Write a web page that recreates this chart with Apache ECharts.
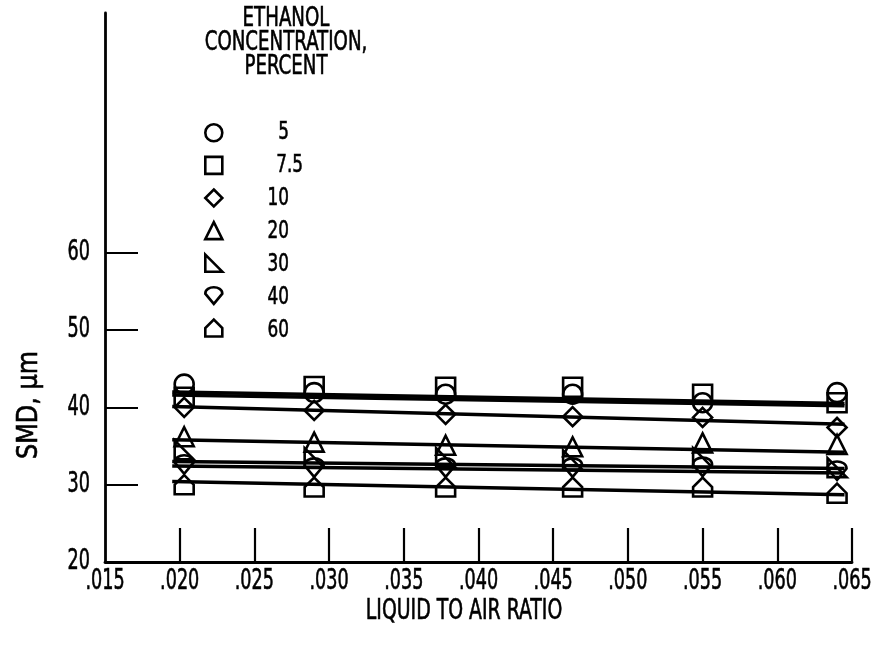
<!DOCTYPE html>
<html>
<head>
<meta charset="utf-8">
<script src="https://cdn.jsdelivr.net/npm/echarts@6/dist/echarts.min.js"></script>
<style>
  html, body { margin: 0; padding: 0; background: #ffffff; }
  #chart { width: 883px; height: 647px; }
</style>
</head>
<body>
<div id="chart"></div>
<script>
// Liquid-to-air ratios at which drop size was measured
const ratios = [0.0203, 0.0290, 0.0378, 0.0463, 0.0550, 0.0640];

// Ethanol concentration, percent (one series each)
const concentrations = ['5', '7.5', '10', '20', '30', '40', '60'];

// Sauter mean diameter, um, per concentration
const smd5   = [43.0, 41.9, 41.7, 41.7, 40.6, 41.9];
const smd7_5 = [41.3, 42.7, 42.6, 42.6, 41.7, 40.6];
const smd10  = [40.0, 39.6, 39.1, 38.8, 38.7, 37.4];
const smd20  = [36.2, 35.5, 35.1, 34.9, 35.4, 35.2];
const smd30  = [34.5, 33.5, 33.5, 33.2, 33.5, 32.2];
const smd40  = [32.6, 32.2, 32.2, 32.2, 32.3, 31.8];
const smd60  = [30.0, 29.7, 29.7, 29.7, 29.7, 28.9];

// Straight-line fits: ratio range and SMD at each end
const fitRange = [0.0195, 0.0645];
const fitStart = [42.0, 41.6, 40.1, 35.8, 33.0, 32.4, 30.4];
const fitEnd   = [40.5, 40.2, 37.8, 34.2, 32.1, 31.5, 28.7];

// Axis ticks and labels
const xTickValues = [0.015, 0.020, 0.025, 0.030, 0.035, 0.040, 0.045, 0.050, 0.055, 0.060, 0.065];
const yLabelValues = [20, 30, 40, 50, 60];
const yTickValues = [30, 40, 50, 60];

const smdSets = [smd5, smd7_5, smd10, smd20, smd30, smd40, smd60];

const FONT = '"DejaVu Sans Condensed", "DejaVu Sans", sans-serif';
const INK = '#000000';

// Open marker shapes, one per concentration
const markerShapes = [
  'circle',
  'rect',
  'diamond',
  'triangle',
  'path://M0,0 L0,10 L10,10 Z',
  'path://M0,4 C0,-1 10,-1 10,4 L5,10 Z',
  'path://M0,10 L0,5 L5,0 L10,5 L10,10 Z'
];

const openMarker = { color: 'rgba(255,255,255,0)', borderColor: INK, borderWidth: 2.6, opacity: 1 };

const series = [];
concentrations.forEach((name, i) => {
  series.push({
    name: name + ' fit',
    type: 'line',
    data: [[fitRange[0], fitStart[i]], [fitRange[1], fitEnd[i]]],
    symbol: 'none',
    silent: true,
    lineStyle: { color: INK, width: 3.5 },
    z: 2
  });
});
concentrations.forEach((name, i) => {
  series.push({
    name: name,
    type: 'scatter',
    data: ratios.map((r, k) => [r, smdSets[i][k]]),
    symbol: markerShapes[i],
    symbolSize: 19,
    symbolKeepAspect: true,
    itemStyle: openMarker,
    z: 3
  });
});

const chart = echarts.init(document.getElementById('chart'), null, { renderer: 'canvas' });

chart.setOption({
  backgroundColor: '#ffffff',
  animation: false,
  grid: { left: 105, right: 31, top: 13, bottom: 85, containLabel: false },
  xAxis: {
    type: 'value',
    min: 0.015,
    max: 0.065,
    interval: 0.005,
    axisLine: { show: true, lineStyle: { color: INK, width: 2.8 } },
    axisTick: { show: true, inside: true, length: 34, lineStyle: { color: INK, width: 2.2 },
                customValues: xTickValues.slice(1) },
    axisLabel: { show: false },
    splitLine: { show: false }
  },
  yAxis: {
    type: 'value',
    min: 20,
    max: 91,
    axisLine: { show: true, lineStyle: { color: INK, width: 2.8 } },
    axisTick: { show: true, inside: true, length: 33, lineStyle: { color: INK, width: 2.2 },
                customValues: yTickValues },
    axisLabel: { show: false },
    splitLine: { show: false }
  },
  legend: {
    data: concentrations,
    orient: 'vertical',
    left: 204,
    top: 123,
    padding: 0,
    itemWidth: 17,
    itemHeight: 17,
    itemGap: 13,
    selectedMode: false,
    formatter: () => '',
    itemStyle: { color: 'rgba(255,255,255,0)', borderColor: INK, borderWidth: 2.6, opacity: 1 },
    textStyle: { fontSize: 12, lineHeight: 17 }
  },
  series: series
});

// Condensed lettering: text drawn narrower than the face's natural width,
// with a hairline outline to give the heavier stroke of the lettering
function label(text, x, y, size, squeeze, align, vAlign) {
  return {
    type: 'text',
    x: x,
    y: y,
    scaleX: squeeze,
    silent: true,
    style: {
      text: text,
      fontFamily: FONT,
      fontSize: size,
      fill: INK,
      stroke: INK,
      lineWidth: 0.6,
      textAlign: align,
      textVerticalAlign: vAlign
    }
  };
}

const fmtRatio = v => '.' + String(Math.round(v * 1000)).padStart(3, '0');

const texts = [];

// Tick labels placed through the axis scales
xTickValues.forEach(v => {
  const p = chart.convertToPixel({ gridIndex: 0 }, [v, 20]);
  texts.push(label(fmtRatio(v), p[0], p[1] + 20, 28, 0.7, 'center', 'middle'));
});
yLabelValues.forEach(v => {
  const p = chart.convertToPixel({ gridIndex: 0 }, [0.015, v]);
  texts.push(label(String(v), p[0] - 15, p[1], 28, 0.7, 'right', 'middle'));
});

// Axis titles
const mid = chart.convertToPixel({ gridIndex: 0 }, [0.0395, 20]);
texts.push(label('LIQUID TO AIR RATIO', mid[0] - 7, mid[1] + 50, 28, 0.75, 'center', 'middle'));
const yMid = chart.convertToPixel({ gridIndex: 0 }, [0.015, 40.3]);
const yName = label('SMD, \u00b5m', 30, yMid[1], 28, 0.95, 'center', 'middle');
yName.rotation = Math.PI / 2;
texts.push(yName);

// Legend heading and concentration values beside the legend symbols
const heading = label('ETHANOL\nCONCENTRATION,\nPERCENT', 286, 7, 27, 0.75, 'center', 'top');
heading.style.lineHeight = 24;
texts.push(heading);
concentrations.forEach((c, i) => {
  const fractional = c.indexOf('.') >= 0;
  texts.push(label(c, 289 + (fractional ? 14 : 0), 132 + 33 * i, 25, 0.75, 'right', 'middle'));
});

chart.setOption({ graphic: texts });
</script>
</body>
</html>
